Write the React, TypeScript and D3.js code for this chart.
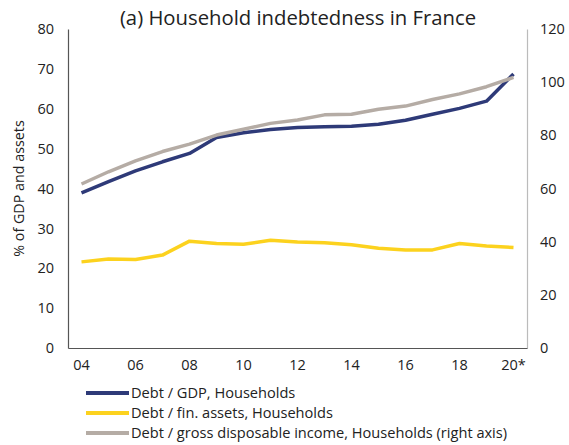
import React, { useEffect, useRef } from "react";
import * as d3 from "d3";

const years = ["04", "05", "06", "07", "08", "09", "10", "11", "12", "13", "14", "15", "16", "17", "18", "19", "20*"];
const tickYears = ["04", "06", "08", "10", "12", "14", "16", "18", "20*"];

const debtGdp = [38.9, 41.7, 44.4, 46.7, 48.8, 52.8, 54.0, 54.8, 55.3, 55.5, 55.6, 56.1, 57.1, 58.6, 60.1, 61.9, 68.7];
const debtAssets = [21.6, 22.3, 22.2, 23.3, 26.8, 26.2, 26.0, 27.0, 26.6, 26.4, 25.9, 25.0, 24.6, 24.6, 26.2, 25.6, 25.2];
const debtIncome = [61.7, 66.3, 70.4, 73.9, 76.7, 80.1, 82.3, 84.5, 85.8, 87.7, 87.9, 89.8, 91.0, 93.5, 95.6, 98.3, 101.8];

const leftTicks = [0, 10, 20, 30, 40, 50, 60, 70, 80];
const rightTicks = [0, 20, 40, 60, 80, 100, 120];

const series = [
  { name: "Debt / GDP, Households", values: debtGdp, color: "#2e3a78", axis: "left" },
  { name: "Debt / fin. assets, Households", values: debtAssets, color: "#fcd21e", axis: "left" },
  { name: "Debt / gross disposable income, Households (right axis)", values: debtIncome, color: "#b5aca5", axis: "right" },
];

const W = 569;
const H = 445;
const margin = { top: 29, right: 42, bottom: 97, left: 68 };
const FONT = "'Open Sans', sans-serif";

export default function App() {
  const ref = useRef<SVGSVGElement>(null);

  useEffect(() => {
    if (!ref.current) return;
    const svg = d3.select(ref.current);
    svg.selectAll("*").remove();

    const x = d3.scaleBand().domain(years).range([margin.left, W - margin.right]);
    const yL = d3.scaleLinear().domain([0, 80]).range([H - margin.bottom, margin.top]);
    const yR = d3.scaleLinear().domain([0, 120]).range([H - margin.bottom, margin.top]);
    const cx = (d: string) => (x(d) as number) + x.bandwidth() / 2;

    // title
    svg.append("text")
      .attr("x", 298)
      .attr("y", 25)
      .attr("text-anchor", "middle")
      .style("font", `20.3px ${FONT}`)
      .attr("fill", "#222")
      .text("(a) Household indebtedness in France");

    // left axis
    const gl = svg.append("g").attr("transform", `translate(${margin.left},0)`)
      .call(d3.axisLeft(yL).tickValues(leftTicks).tickSize(0).tickPadding(14));
    gl.select(".domain").attr("stroke", "#555").attr("stroke-width", 1.2);
    gl.selectAll("text").style("font", `14.5px ${FONT}`).attr("fill", "#222");

    // right axis
    const gr = svg.append("g").attr("transform", `translate(${W - margin.right},0)`)
      .call(d3.axisRight(yR).tickValues(rightTicks).tickSize(0).tickPadding(13));
    gr.select(".domain").attr("stroke", "#bbb").attr("stroke-width", 1.2);
    gr.selectAll("text").style("font", `14.5px ${FONT}`).attr("fill", "#222");

    // bottom axis
    const gb = svg.append("g").attr("transform", `translate(0,${H - margin.bottom})`)
      .call(d3.axisBottom(x).tickValues(tickYears).tickSize(0).tickPadding(12));
    gb.select(".domain").attr("stroke", "#555").attr("stroke-width", 1.2);
    gb.selectAll("text").style("font", `14.5px ${FONT}`).attr("fill", "#222");

    // y-axis title
    svg.append("text")
      .attr("transform", `translate(24,${(margin.top + H - margin.bottom) / 2}) rotate(-90)`)
      .attr("text-anchor", "middle")
      .style("font", `14.3px ${FONT}`)
      .attr("fill", "#222")
      .text("% of GDP and assets");

    // lines
    series.forEach((s) => {
      const yS = s.axis === "left" ? yL : yR;
      const line = d3.line<number>()
        .x((_, i) => cx(years[i]))
        .y((v) => yS(v));
      svg.append("path")
        .datum(s.values)
        .attr("d", line)
        .attr("fill", "none")
        .attr("stroke", s.color)
        .attr("stroke-width", 3.5)
        .attr("stroke-linejoin", "round");
    });

    // legend
    const lg = svg.append("g");
    series.forEach((s, i) => {
      const ly = 393 + i * 20;
      lg.append("line")
        .attr("x1", 86).attr("x2", 129)
        .attr("y1", ly).attr("y2", ly)
        .attr("stroke", s.color)
        .attr("stroke-width", 4);
      lg.append("text")
        .attr("x", 131)
        .attr("y", ly + 5)
        .style("font", `14.6px ${FONT}`)
        .attr("fill", "#222")
        .text(s.name);
    });
  }, []);

  return <svg ref={ref} width={W} height={H} style={{ position: "absolute", left: 0, top: 0, background: "#fff" }} />;
}
